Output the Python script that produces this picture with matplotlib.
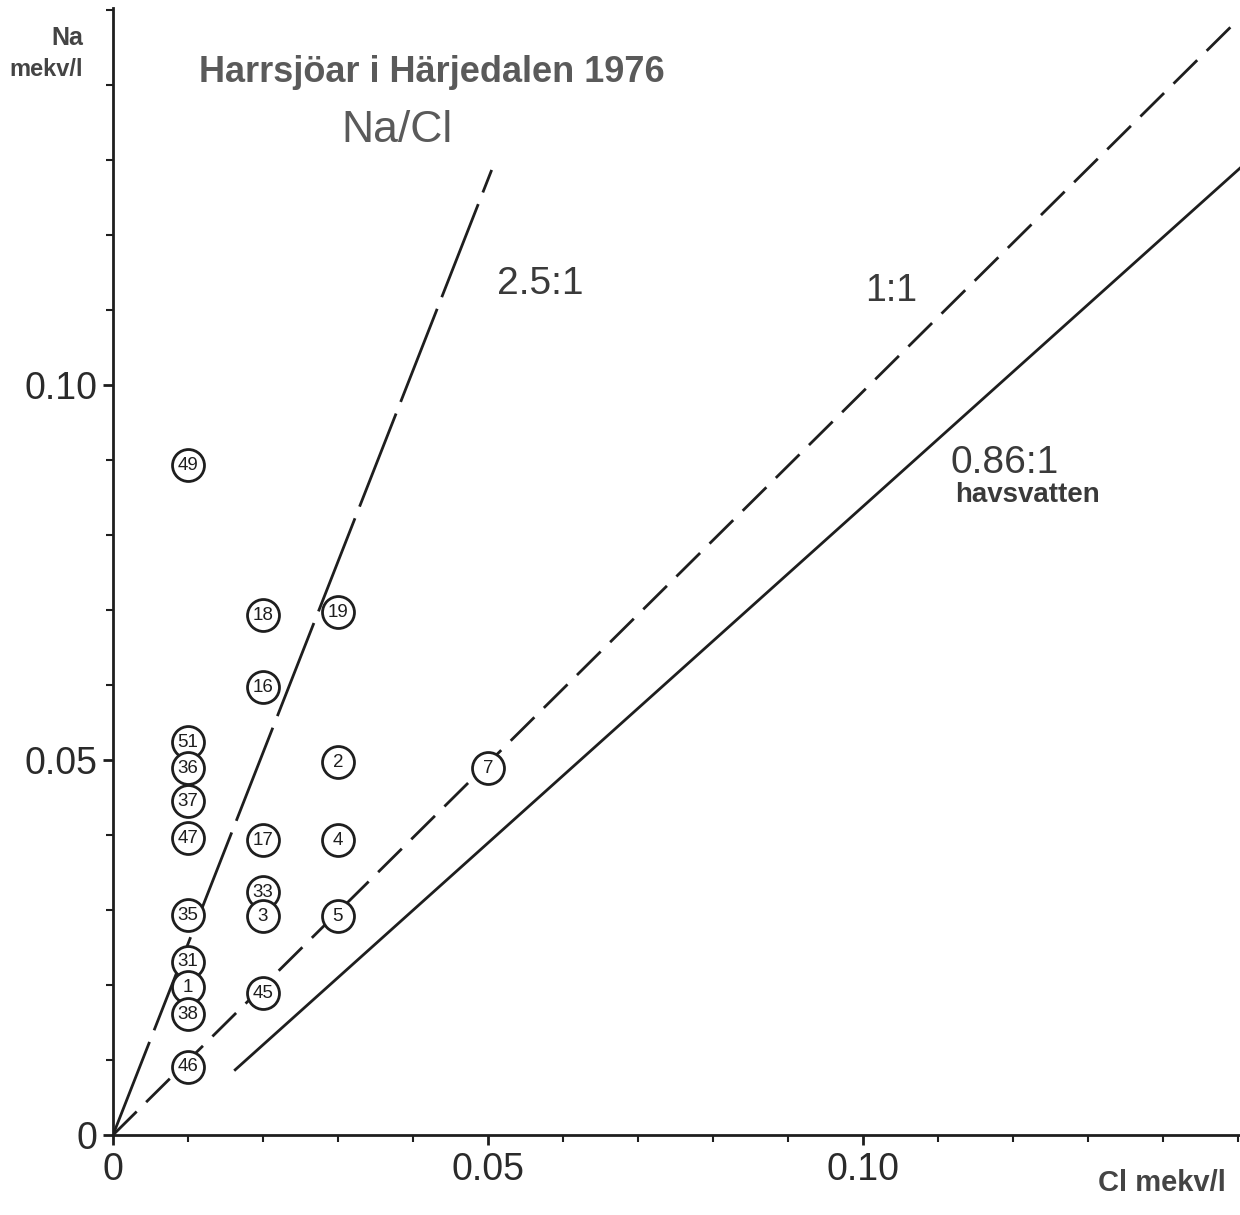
import matplotlib
matplotlib.use("Agg")
import matplotlib.pyplot as plt
from matplotlib.ticker import MultipleLocator, FixedLocator

# ---- data ----
lake_ids = ['49', '18', '19', '16', '51', '36', '2', '7', '37', '47', '17',
            '4', '33', '3', '35', '5', '31', '1', '38', '45', '46']
cl_values = [0.010, 0.020, 0.030, 0.020, 0.010, 0.010, 0.030, 0.050, 0.010, 0.010, 0.020,
             0.030, 0.020, 0.020, 0.010, 0.030, 0.010, 0.010, 0.010, 0.020, 0.010]
na_values = [0.0893, 0.0693, 0.0697, 0.0597, 0.0524, 0.0489, 0.0497, 0.0489, 0.0445, 0.0396, 0.0393,
             0.0393, 0.0324, 0.0292, 0.0293, 0.0292, 0.0231, 0.0197, 0.0161, 0.0189, 0.0091]

ratio_25_x = [0.0, 0.0505]
ratio_25_y = [0.0, 0.1287]
ratio_11_x = [0.0, 0.1500]
ratio_11_y = [0.0, 0.1487]
ratio_086_x = [0.0163, 0.1507]
ratio_086_y = [0.0087, 0.1293]

major_ticks = [0.0, 0.05, 0.10]
major_labels = ['0', '0.05', '0.10']

# ---- figure ----
W, H = 1240, 1215
fig = plt.figure(figsize=(W / 100, H / 100), dpi=100)
fig.patch.set_facecolor('white')

def fx(px):
    return px / W

def fy(py):
    return 1 - py / H

NARROW = ['Liberation Sans Narrow', 'Liberation Sans', 'DejaVu Sans']
INK = '#1e1e1e'

ax = fig.add_axes([fx(113), fy(1135), (1240 - 113) / W, (1135 - 8) / H])
ax.set_xlim(0, 0.1503)
ax.set_ylim(0, 0.1503)

for s in ['top', 'right']:
    ax.spines[s].set_visible(False)
for s in ['left', 'bottom']:
    ax.spines[s].set_linewidth(2.0)
    ax.spines[s].set_color(INK)

ax.xaxis.set_major_locator(FixedLocator(major_ticks))
ax.yaxis.set_major_locator(FixedLocator(major_ticks))
ax.set_xticklabels(major_labels)
ax.set_yticklabels(major_labels)
ax.xaxis.set_minor_locator(MultipleLocator(0.01))
ax.yaxis.set_minor_locator(MultipleLocator(0.01))
ax.tick_params(which='major', direction='out', length=7, width=2, color=INK,
               labelsize=27, labelcolor='#2a2a2a')
ax.tick_params(which='minor', direction='out', length=5, width=1.5, color=INK)
ax.tick_params(axis='x', which='major', pad=5)
ax.tick_params(axis='y', which='major', pad=4)
for lab in ax.get_xticklabels() + ax.get_yticklabels():
    lab.set_family(NARROW)

# ratio lines
ax.plot(ratio_25_x, ratio_25_y, color=INK, lw=2.0, dashes=(36, 4.5), zorder=2)
ax.plot(ratio_11_x, ratio_11_y, color=INK, lw=2.0, dashes=(12, 4.8), zorder=2)
ax.plot(ratio_086_x, ratio_086_y, color=INK, lw=2.0, zorder=2)

# circled lake numbers
ax.scatter(cl_values, na_values, s=23 ** 2, facecolor='white', edgecolor=INK,
           linewidths=2.0, zorder=3, clip_on=False)
for lid, xv, yv in zip(lake_ids, cl_values, na_values):
    ax.text(xv, yv, lid, ha='center', va='center', fontsize=13.5, color=INK,
            family=NARROW, zorder=4)

# texts
fig.text(fx(432), fy(73), 'Harrsjöar i Härjedalen 1976', ha='center', va='center',
         fontsize=26, fontweight='bold', color='#5a5a5a', family=NARROW)
fig.text(fx(397), fy(130), 'Na/Cl', ha='center', va='center',
         fontsize=32, color='#5a5a5a', family=NARROW)
fig.text(fx(83), fy(38), 'Na', ha='right', va='center',
         fontsize=18, fontweight='bold', color='#444444', family=NARROW)
fig.text(fx(83), fy(69), 'mekv/l', ha='right', va='center',
         fontsize=17, fontweight='bold', color='#444444', family=NARROW)
fig.text(fx(1226), fy(1183), 'Cl mekv/l', ha='right', va='center',
         fontsize=21, fontweight='bold', color='#444444', family=NARROW)
fig.text(fx(497), fy(284), '2.5:1', ha='left', va='center',
         fontsize=28, color='#3a3a3a', family=NARROW)
fig.text(fx(865), fy(291), '1:1', ha='left', va='center',
         fontsize=27, color='#3a3a3a', family=NARROW)
fig.text(fx(950), fy(463), '0.86:1', ha='left', va='center',
         fontsize=28, color='#3a3a3a', family=NARROW)
fig.text(fx(955), fy(495), 'havsvatten', ha='left', va='center',
         fontsize=20, fontweight='bold', color='#3a3a3a', family=NARROW)

fig.savefig('out.png', dpi=100, facecolor='white')
